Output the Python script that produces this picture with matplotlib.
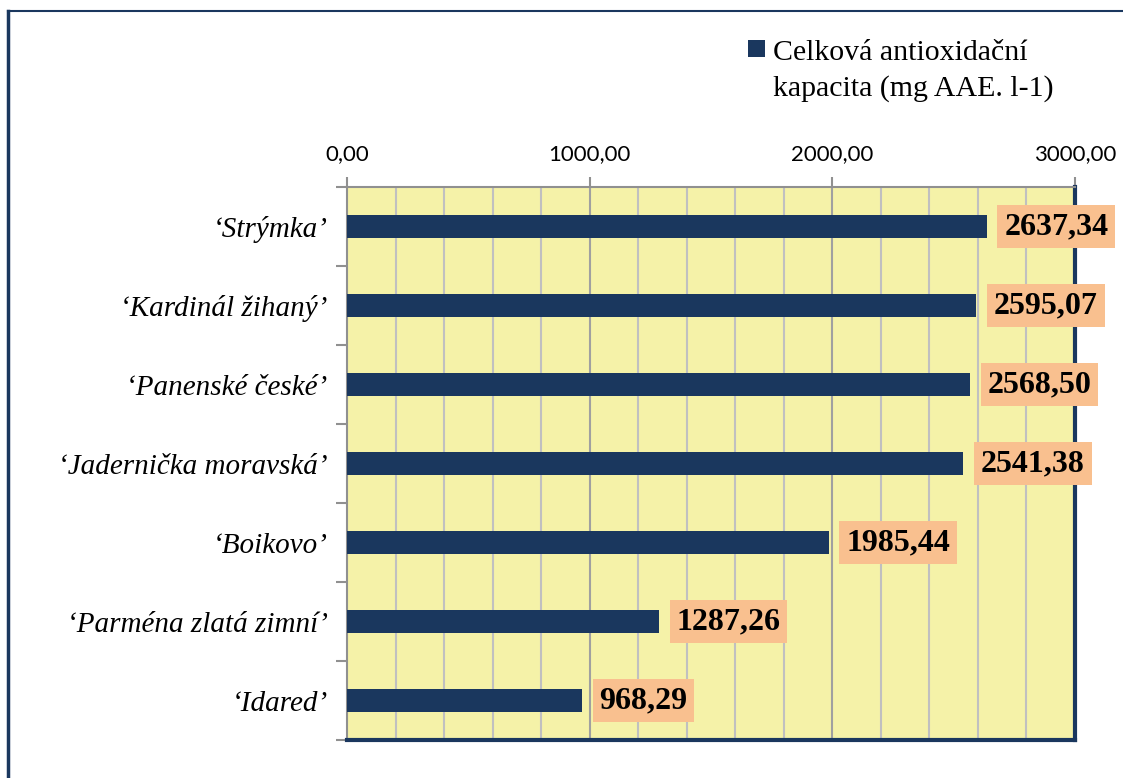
import matplotlib.pyplot as plt
from matplotlib.lines import Line2D
from matplotlib.patches import Rectangle

# odrudy jablek a jejich celkova antioxidacni kapacita
odrudy = ["\u2018Strýmka\u2019", "\u2018Kardinál žihaný\u2019", "\u2018Panenské české\u2019",
          "\u2018Jadernička moravská\u2019", "\u2018Boikovo\u2019",
          "\u2018Parména zlatá zimní\u2019", "\u2018Idared\u2019"]
hodnoty = [2637.34, 2595.07, 2568.50, 2541.38, 1985.44, 1287.26, 968.29]
popisky = ["2637,34", "2595,07", "2568,50", "2541,38", "1985,44", "1287,26", "968,29"]
xticks = [0, 1000, 2000, 3000]
xtick_labels = ["0,00", "1000,00", "2000,00", "3000,00"]
legenda = ["Celková antioxidační", "kapacita (mg AAE. l-1)"]

navy = "#1a375e"
fig = plt.figure(figsize=[11.23, 7.78], dpi=100)
ax = fig.add_axes([0.309, 0.0488, 0.648, 0.7108])

y = list(range(len(odrudy)))[::-1]
ax.barh(y, hodnoty, height=0.28, color=navy, zorder=3)
ax.set_xlim(0, 3000)
ax.set_ylim(-0.5, len(odrudy) - 0.5)
ax.set_facecolor("#f5f2a8")

# mrizka - jemna po 200, hruba po 1000
for xv in range(200, 3000, 200):
    c = "#a0a0a0" if xv % 1000 == 0 else "#c0c0c0"
    ax.axvline(xv, color=c, lw=1.5, zorder=1)

ax.xaxis.tick_top()
ax.set_xticks(xticks)
ax.set_xticklabels(xtick_labels, family="Lato", fontsize=16)
ax.tick_params(axis="x", length=7, color="#909090", width=1.5, pad=9.5)

ax.set_yticks([v - 0.5 for v in range(len(odrudy) + 1)])
ax.set_yticklabels([])
ax.set_yticks(y, minor=True)
ax.set_yticklabels(odrudy, minor=True, family="Liberation Serif", style="italic", fontsize=21)
ax.tick_params(axis="y", which="major", length=8, color="#909090", width=1.5)
ax.tick_params(axis="y", which="minor", length=0, pad=14)

for s in ["left", "top"]:
    ax.spines[s].set_color("#909090")
    ax.spines[s].set_linewidth(1.5)
for s in ["right", "bottom"]:
    ax.spines[s].set_color(navy)
    ax.spines[s].set_linewidth(3)

# popisky hodnot v oranzovych ramecich
for yi, v, t in zip(y, hodnoty, popisky):
    ax.text(v + 72, yi, t, va="center", ha="left", family="Liberation Serif",
            fontweight="bold", fontsize=23, zorder=5, clip_on=False,
            bbox=dict(boxstyle="square,pad=0.21", fc="#f9c08f", ec="none"))

# legenda - ctverecek u prvniho radku
fig.add_artist(Rectangle((0.666, 0.9267), 0.0152, 0.0219, transform=fig.transFigure,
                         fc=navy, ec="none"))
fig.text(0.688, 0.9229, legenda[0], family="Liberation Serif", fontsize=21.5, va="baseline")
fig.text(0.688, 0.8766, legenda[1], family="Liberation Serif", fontsize=21.5, va="baseline")

# ramecek grafu
fig.add_artist(Line2D([0.0075, 0.0075], [0.0, 0.986], color=navy, lw=2.5))
fig.add_artist(Line2D([0.0075, 1.0], [0.986, 0.986], color=navy, lw=1.5))

fig.savefig("out.png", dpi=100)
